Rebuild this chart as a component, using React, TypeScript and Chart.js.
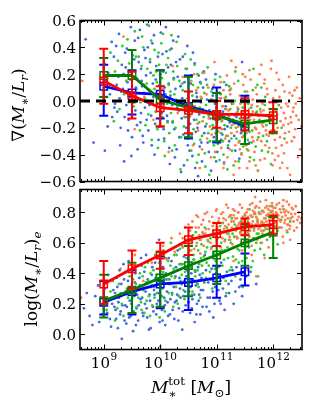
import React, { useEffect, useRef } from "react";
import { Chart, registerables } from "chart.js";
Chart.register(...registerables);

const FONT = '"DejaVu Serif", "Liberation Serif", serif';

// ---------- data ----------
const massBins = [9, 9.5, 10, 10.5, 11, 11.5, 12]; // log10 M*
const massTicks = [9, 10, 11, 12];
const gradTicks = [-0.6, -0.4, -0.2, 0.0, 0.2, 0.4, 0.6];
const mlTicks = [0.0, 0.2, 0.4, 0.6, 0.8];
const zeroLine = [8.58, 12.3];

// top panel: gradient of M/L
const gradBlue = [0.11, 0.06, 0.05, -0.04, -0.1, -0.19];
const gradBlueLo = [-0.11, -0.1, -0.13, -0.28, -0.31, -0.32];
const gradBlueHi = [0.27, 0.23, 0.23, 0.19, 0.1, 0.04];
const gradGreen = [0.19, 0.19, 0.01, -0.05, -0.11, -0.17, -0.14];
const gradGreenLo = [0.03, -0.01, -0.19, -0.27, -0.3, -0.32, -0.24];
const gradGreenHi = [0.32, 0.38, 0.23, 0.18, 0.06, -0.01, -0.06];
const gradRed = [0.15, 0.04, -0.05, -0.07, -0.1, -0.1, -0.11];
const gradRedLo = [-0.02, -0.13, -0.19, -0.24, -0.2, -0.22, -0.23];
const gradRedHi = [0.39, 0.22, 0.11, 0.07, 0.0, 0.02, -0.01];

// bottom panel: log(M/L)_e
const mlBlue = [0.21, 0.28, 0.33, 0.34, 0.37, 0.41];
const mlBlueLo = [0.13, 0.13, 0.17, 0.16, 0.24, 0.32];
const mlBlueHi = [0.35, 0.42, 0.51, 0.52, 0.45, 0.53];
const mlGreen = [0.22, 0.29, 0.37, 0.45, 0.52, 0.6, 0.67];
const mlGreenLo = [0.11, 0.14, 0.18, 0.25, 0.33, 0.45, 0.5];
const mlGreenHi = [0.39, 0.47, 0.54, 0.58, 0.66, 0.72, 0.77];
const mlRed = [0.33, 0.43, 0.52, 0.62, 0.66, 0.705, 0.72];
const mlRedLo = [0.2, 0.3, 0.43, 0.52, 0.58, 0.65, 0.66];
const mlRedHi = [0.48, 0.55, 0.6, 0.7, 0.73, 0.76, 0.78];

// scatter samples [log M*, value]
const gradBluePts = [
  [8.68,0.46],[8.82,-0.31],[8.95,0.12],[9.02,-0.37],[9.08,0.21],[9.11,0.05],[9.15,-0.12],[9.18,0.33],[9.05,0.15],[9.2,-0.02],
  [9.22,0.41],[9.24,-0.08],[9.26,0.18],[9.28,0.02],[9.3,-0.2],[9.32,0.27],[9.34,0.09],[9.36,-0.45],[9.38,0.36],[9.4,-0.03],
  [9.42,0.14],[9.44,-0.14],[9.46,0.22],[9.48,0.55],[9.5,-0.27],[9.52,0.06],[9.54,0.31],[9.56,-0.07],[9.58,0.17],[9.6,-0.36],
  [9.61,0.47],[9.63,0.01],[9.65,-0.16],[9.66,0.24],[9.68,0.11],[9.7,-0.31],[9.72,0.38],[9.73,-0.05],[9.75,0.19],[9.77,0.57],
  [9.79,-0.22],[9.8,0.08],[9.82,0.29],[9.84,-0.11],[9.86,0.43],[9.88,0.03],[9.9,-0.4],[9.92,0.16],[9.94,-0.02],[9.96,0.33],
  [9.98,-0.19],[9.99,0.12],[10.01,0.51],[10.03,-0.09],[10.05,0.22],[10.07,-0.28],[10.09,0.05],[10.11,0.37],[10.13,-0.15],[10.15,0.13],
  [10.17,-0.47],[10.19,0.27],[10.21,-0.03],[10.23,0.45],[10.25,-0.21],[10.27,0.09],[10.29,-0.36],[10.31,0.18],[10.33,-0.07],[10.35,0.31],
  [10.37,-0.53],[10.39,0.02],[10.41,-0.25],[10.43,0.14],[10.45,-0.12],[10.47,0.24],[10.49,-0.33],[10.51,0.07],[10.53,-0.17],[10.55,0.19],
  [10.57,-0.41],[10.59,-0.04],[10.61,0.28],[10.63,-0.23],[10.65,0.03],[10.67,-0.56],[10.69,-0.1],[10.71,0.14],[10.73,-0.31],[10.75,-0.06],
  [10.77,0.22],[10.8,-0.19],[10.83,0.01],[10.86,-0.38],[10.89,-0.13],[10.92,0.09],[10.95,-0.27],[10.97,-0.02],[10.99,-0.45],[11.02,-0.14],
  [11.05,0.06],[11.08,-0.29],[11.11,-0.08],[11.14,-0.21],[11.17,0.12],[11.2,-0.35],[11.23,-0.16],[11.27,-0.02],[11.31,-0.26],[11.35,-0.12],
  [11.4,-0.43],[11.45,0.29],[11.5,-0.2],[11.58,-0.31],[11.7,-0.09],
  [9.01,0.28],[9.07,-0.19],[9.14,0.44],[9.19,-0.05],[9.23,0.12],[9.27,0.5],[9.29,-0.33],[9.31,0.07],[9.35,0.2],[9.37,-0.12],
  [9.39,0.25],[9.41,0.39],[9.43,-0.22],[9.45,0.03],[9.47,0.16],[9.49,-0.41],[9.51,0.34],[9.53,-0.01],[9.55,0.45],[9.57,0.1],
  [9.59,-0.18],[9.62,0.29],[9.64,0.53],[9.66,-0.09],[9.67,0.15],[9.69,-0.26],[9.71,0.06],[9.74,0.32],[9.76,-0.14],[9.78,0.4],
  [9.81,-0.03],[9.83,0.21],[9.85,-0.33],[9.87,0.13],[9.89,0.49],[9.91,-0.17],[9.93,0.26],[9.95,0.04],[9.97,-0.29],[10.0,0.2],
  [10.02,-0.04],[10.04,0.35],[10.06,-0.21],[10.08,0.1],[10.1,0.55],[10.12,-0.11],[10.14,0.25],[10.16,-0.35],[10.18,0.04],[10.2,0.39],
  [10.22,-0.16],[10.24,0.17],[10.26,-0.42],[10.28,0.29],[10.3,-0.05],[10.32,0.48],[10.34,-0.27],[10.36,0.11],[10.38,-0.13],[10.4,0.33],
  [10.42,-0.48],[10.44,0.0],[10.46,-0.2],[10.48,0.41],[10.5,-0.08],[10.52,-0.37],[10.54,0.13],[10.56,-0.25],[10.58,0.36],[10.6,-0.14],
  [10.62,-0.5],[10.64,0.06],[10.66,-0.2],[10.68,0.19],[10.7,-0.34],[10.72,-0.01],[10.74,-0.45],[10.76,0.1],[10.78,-0.24],[10.81,0.16],
  [10.84,-0.31],[10.87,-0.07],[10.9,-0.52],[10.93,0.04],[10.96,-0.2],[10.98,0.2],[11.01,-0.38],[11.04,-0.11],[11.07,0.02],[11.1,-0.25],
  [11.13,-0.46],[11.16,-0.04],[11.19,-0.19],[11.22,-0.3],[11.25,0.09],[11.29,-0.14],[11.33,-0.37],[11.38,-0.06],[11.43,-0.24],[11.55,-0.15],
];
const gradGreenPts = [
  [9.05,0.03],[9.12,0.36],[9.2,0.22],[9.28,-0.06],[9.33,0.41],[9.4,0.15],[9.45,0.28],[9.5,-0.12],[9.55,0.52],[9.58,0.09],
  [9.62,0.33],[9.65,-0.01],[9.68,0.48],[9.71,0.12],[9.74,-0.18],[9.77,0.24],[9.8,0.56],[9.83,0.06],[9.85,-0.29],[9.88,0.19],
  [9.9,0.38],[9.92,-0.08],[9.94,0.14],[9.96,-0.35],[9.98,0.27],[9.99,0.02],[10.02,0.43],[10.04,-0.12],[10.06,0.11],[10.08,-0.41],
  [10.1,0.21],[10.12,-0.02],[10.14,0.32],[10.16,-0.24],[10.18,0.07],[10.2,0.49],[10.22,-0.15],[10.24,0.16],[10.26,-0.33],[10.28,0.01],
  [10.3,0.26],[10.33,-0.07],[10.36,-0.51],[10.39,0.13],[10.42,-0.19],[10.44,0.35],[10.47,-0.04],[10.49,-0.28],[10.51,0.18],[10.53,-0.11],
  [10.55,-0.37],[10.57,0.04],[10.59,-0.21],[10.61,0.27],[10.63,-0.06],[10.65,-0.46],[10.67,0.1],[10.69,-0.16],[10.71,-0.29],[10.73,0.02],
  [10.75,0.21],[10.77,-0.12],[10.79,-0.39],[10.81,-0.03],[10.83,0.12],[10.85,-0.24],[10.87,-0.55],[10.89,-0.08],[10.91,0.07],[10.93,-0.18],
  [10.95,-0.33],[10.97,0.16],[10.99,-0.01],[11.01,-0.22],[11.03,-0.09],[11.05,-0.44],[11.07,0.05],[11.09,-0.15],[11.11,-0.3],[11.13,0.14],
  [11.15,-0.06],[11.17,-0.26],[11.19,-0.51],[11.21,-0.11],[11.23,0.08],[11.25,-0.2],[11.27,-0.37],[11.29,-0.02],[11.31,-0.17],[11.33,0.22],
  [11.35,-0.28],[11.37,-0.08],[11.39,-0.45],[11.41,-0.13],[11.43,0.01],[11.45,-0.23],[11.47,-0.34],[11.49,-0.1],[11.51,-0.19],[11.53,0.04],
  [11.55,-0.29],[11.57,-0.12],[11.59,-0.42],[11.61,-0.05],[11.63,-0.22],[11.65,0.24],[11.67,-0.16],[11.69,-0.34],[11.71,-0.08],[11.73,-0.52],
  [11.76,-0.14],[11.79,0.1],[11.82,-0.26],[11.85,-0.03],[11.88,-0.18],[11.91,-0.38],[11.95,-0.11],[11.99,-0.24],[12.05,-0.07],[12.15,-0.2],
  [9.1,0.12],[9.18,-0.15],[9.25,0.3],[9.36,0.05],[9.42,0.46],[9.48,0.2],[9.53,-0.04],[9.57,0.33],[9.6,0.16],[9.64,-0.22],
  [9.67,0.26],[9.7,0.4],[9.73,0.02],[9.76,0.13],[9.79,-0.1],[9.82,0.31],[9.84,0.45],[9.87,-0.02],[9.9,0.09],[9.93,0.22],
  [9.95,-0.21],[9.97,0.36],[10.0,-0.06],[10.03,0.17],[10.05,0.5],[10.07,-0.3],[10.09,0.04],[10.11,0.27],[10.13,-0.16],[10.15,0.12],
  [10.17,0.38],[10.19,-0.09],[10.21,-0.37],[10.23,0.22],[10.25,0.05],[10.27,-0.2],[10.29,0.44],[10.31,-0.03],[10.34,0.15],[10.37,-0.27],
  [10.4,0.08],[10.43,-0.12],[10.45,0.24],[10.48,-0.44],[10.5,0.06],[10.52,-0.25],[10.54,0.31],[10.56,-0.07],[10.58,0.12],[10.6,-0.32],
  [10.62,0.0],[10.64,-0.14],[10.66,0.2],[10.68,-0.4],[10.7,-0.05],[10.72,0.13],[10.74,-0.26],[10.76,-0.09],[10.78,0.06],[10.8,-0.49],
  [10.82,-0.17],[10.84,0.25],[10.86,-0.11],[10.88,-0.3],[10.9,0.01],[10.92,-0.21],[10.94,0.1],[10.96,-0.42],[10.98,-0.14],[11.0,0.04],
  [11.02,-0.32],[11.04,-0.12],[11.06,0.18],[11.08,-0.24],[11.1,-0.04],[11.12,-0.4],[11.14,-0.18],[11.16,0.03],[11.18,-0.13],[11.2,-0.33],
  [11.22,0.11],[11.24,-0.06],[11.26,-0.28],[11.28,-0.14],[11.3,-0.48],[11.32,0.0],[11.34,-0.2],[11.36,-0.1],[11.38,0.15],[11.4,-0.3],
  [11.42,-0.18],[11.44,-0.39],[11.46,-0.05],[11.48,-0.26],[11.5,0.07],[11.52,-0.15],[11.54,-0.36],[11.56,-0.02],[11.58,-0.23],[11.6,-0.11],
  [11.62,-0.31],[11.64,0.08],[11.66,-0.44],[11.68,-0.2],[11.7,-0.1],[11.72,0.12],[11.74,-0.27],[11.77,-0.06],[11.8,-0.37],[11.83,-0.16],
  [11.86,0.03],[11.89,-0.3],[11.92,-0.12],[11.96,-0.47],[12.0,-0.17],[12.1,-0.03],[12.2,-0.28],
];
const gradOrangePts = [
  [8.62,0.15],[9.35,0.48],[9.55,-0.21],[9.72,0.03],[9.88,-0.14],[10.05,0.09],[10.15,-0.38],[10.22,0.26],[10.31,-0.09],[10.4,0.18],
  [10.45,-0.27],[10.48,0.02],[10.52,-0.12],[10.55,0.15],[10.58,-0.33],[10.61,-0.04],[10.64,0.08],[10.67,-0.22],[10.7,-0.5],[10.72,0.03],
  [10.75,-0.15],[10.78,0.21],[10.8,-0.08],[10.83,-0.28],[10.85,0.1],[10.88,-0.19],[10.9,-0.42],[10.92,0.01],[10.94,-0.11],[10.96,0.29],
  [10.98,-0.24],[10.99,-0.05],[11.01,-0.16],[11.02,0.06],[11.04,-0.3],[11.06,-0.09],[11.07,0.14],[11.09,-0.21],[11.11,-0.04],[11.13,-0.47],
  [11.14,0.02],[11.16,-0.13],[11.18,0.19],[11.2,-0.26],[11.21,-0.07],[11.23,-0.36],[11.25,0.09],[11.27,-0.18],[11.28,-0.01],[11.3,-0.55],
  [11.32,-0.11],[11.34,0.25],[11.36,-0.23],[11.37,-0.05],[11.39,-0.31],[11.41,0.04],[11.43,-0.15],[11.44,-0.4],[11.46,-0.08],[11.47,0.12],
  [11.48,-0.2],[11.5,-0.03],[11.51,-0.12],[11.52,-0.33],[11.54,0.07],[11.55,-0.18],[11.57,-0.06],[11.58,-0.45],[11.6,0.16],[11.61,-0.1],
  [11.63,-0.27],[11.64,0.01],[11.66,-0.14],[11.67,-0.38],[11.69,0.1],[11.7,-0.21],[11.72,-0.04],[11.73,-0.52],[11.75,-0.16],[11.76,0.2],
  [11.78,-0.08],[11.79,-0.3],[11.81,-0.02],[11.82,-0.19],[11.84,0.13],[11.85,-0.43],[11.87,-0.11],[11.88,-0.25],[11.9,0.05],[11.91,-0.15],
  [11.93,-0.35],[11.94,-0.06],[11.96,0.24],[11.97,-0.22],[11.98,-0.1],[11.99,-0.48],[11.995,0.0],[12.01,-0.13],[12.03,-0.29],[12.04,0.08],
  [12.06,-0.07],[12.08,-0.2],[12.09,-0.41],[12.11,0.03],[12.13,-0.15],[12.15,-0.33],[12.17,0.12],[12.19,-0.09],[12.21,-0.24],[12.23,-0.02],
  [12.25,-0.5],[12.27,-0.17],[12.29,0.06],[12.31,-0.12],[12.33,-0.3],[12.36,-0.05],[12.39,-0.21],[12.42,0.1],[12.45,-0.14],[12.48,-0.36],
  [12.4,-0.02],[12.35,-0.08],
  [10.6,0.2],[10.66,-0.17],[10.74,-0.36],[10.82,0.05],[10.86,-0.13],[10.91,-0.25],[10.95,0.12],[10.97,-0.38],[11.0,-0.1],[11.03,-0.23],
  [11.05,0.02],[11.08,-0.35],[11.1,-0.14],[11.12,0.08],[11.15,-0.28],[11.17,-0.06],[11.19,-0.42],[11.22,-0.12],[11.24,0.05],[11.26,-0.24],
  [11.29,-0.16],[11.31,0.13],[11.33,-0.33],[11.35,-0.09],[11.38,-0.19],[11.4,-0.5],[11.42,-0.02],[11.45,-0.27],[11.49,-0.12],[11.505,0.18],
  [11.53,-0.24],[11.56,-0.37],[11.59,-0.14],[11.62,-0.03],[11.65,-0.3],[11.68,-0.2],[11.71,0.05],[11.74,-0.11],[11.77,-0.44],[11.8,-0.17],
  [11.83,-0.07],[11.86,-0.33],[11.89,0.09],[11.92,-0.26],[11.95,-0.13],[11.985,-0.39],[12.0,0.02],[12.02,-0.22],[12.05,-0.35],[12.07,-0.1],
  [12.1,0.16],[12.12,-0.27],[12.14,-0.05],[12.16,-0.46],[12.18,-0.18],[12.2,0.07],[12.22,-0.13],[12.24,-0.31],[12.26,-0.04],[12.28,-0.23],
  [12.3,-0.55],[12.32,-0.16],[12.34,0.04],[12.37,-0.27],[12.41,-0.11],[12.44,-0.42],[12.47,0.02],[12.5,-0.19],[11.64,-0.08],[11.87,-0.22],
  [11.58,0.23],[11.72,-0.29],[11.93,-0.01],[12.06,0.21],[12.19,-0.39],[11.33,-0.45],[11.46,0.2],[11.79,0.27],[12.12,-0.5],[11.26,0.3],
  [11.12,-0.5],[11.97,0.3],[11.54,-0.5],[12.28,0.18],[11.69,-0.48],[11.41,-0.36],[11.75,-0.24],[11.85,0.16],[12.03,-0.44],[12.38,0.08],
];
const mlBluePts = [
  [8.65,0.17],[8.75,0.12],[8.85,0.25],[8.92,0.08],[8.98,0.19],[9.02,0.3],[9.06,0.14],[9.1,0.23],[9.13,0.05],[9.16,0.35],
  [9.19,0.18],[9.2,0.27],[9.22,0.1],[9.24,0.31],[9.26,0.21],[9.28,0.42],[9.3,0.15],[9.32,-0.03],[9.34,0.26],[9.36,0.36],
  [9.38,0.19],[9.4,0.07],[9.42,0.29],[9.44,0.48],[9.46,0.22],[9.48,0.12],[9.5,0.33],[9.52,0.02],[9.54,0.25],[9.56,0.4],
  [9.58,0.17],[9.6,0.3],[9.61,0.09],[9.63,0.37],[9.65,0.23],[9.67,0.45],[9.69,0.14],[9.71,0.3],[9.73,0.2],[9.75,0.52],
  [9.77,0.11],[9.79,0.34],[9.81,0.26],[9.83,0.04],[9.85,0.39],[9.87,0.18],[9.89,0.29],[9.91,0.47],[9.93,0.13],[9.95,0.35],
  [9.97,0.22],[9.98,0.62],[9.99,0.08],[9.96,0.27],[10.01,0.31],[10.03,0.16],[10.05,0.44],[10.07,0.24],[10.09,0.06],[10.11,0.36],
  [10.13,0.21],[10.15,0.5],[10.17,0.13],[10.19,0.33],[10.21,0.27],[10.23,0.41],[10.25,0.1],[10.27,0.38],[10.29,0.22],[10.31,0.55],
  [10.33,0.17],[10.35,0.3],[10.37,0.46],[10.39,0.03],[10.41,0.25],[10.43,0.35],[10.45,0.19],[10.48,0.42],[10.51,0.28],[10.53,0.14],
  [10.55,0.4],[10.57,0.23],[10.59,0.49],[10.61,0.08],[10.63,0.32],[10.65,0.2],[10.67,0.44],[10.69,0.26],[10.71,0.13],[10.73,0.37],
  [10.76,0.29],[10.79,0.52],[10.82,0.18],[10.85,0.34],[10.88,0.24],[10.91,0.43],[10.94,0.11],[10.97,0.31],[11.02,0.38],[11.05,0.22],
  [11.08,0.47],[11.11,0.3],[11.14,0.16],[11.18,0.41],[11.22,0.27],[11.26,0.35],[11.3,0.2],[11.35,0.44],[11.4,0.31],[11.45,0.25],
  [11.52,0.38],[11.7,0.33],
  [8.7,0.27],[8.8,0.06],[8.9,0.32],[8.97,0.13],[9.03,0.22],[9.08,0.39],[9.11,0.1],[9.15,0.2],[9.17,0.29],[9.21,0.16],
  [9.23,0.37],[9.25,0.04],[9.27,0.24],[9.29,0.13],[9.31,0.33],[9.33,0.19],[9.35,0.46],[9.37,0.09],[9.39,0.28],[9.41,0.18],
  [9.43,0.35],[9.45,0.11],[9.47,0.3],[9.49,0.2],[9.51,0.42],[9.53,0.15],[9.55,0.34],[9.57,0.06],[9.59,0.26],[9.62,0.19],
  [9.64,0.32],[9.66,0.5],[9.68,0.24],[9.7,0.12],[9.72,0.41],[9.74,0.28],[9.76,0.17],[9.78,0.36],[9.8,0.03],[9.82,0.22],
  [9.84,0.31],[9.86,0.44],[9.88,0.15],[9.9,0.26],[9.92,0.37],[9.94,0.2],[10.0,0.47],[10.02,0.25],[10.04,0.09],[10.06,0.34],
  [10.08,0.19],[10.1,0.4],[10.12,0.28],[10.14,0.12],[10.16,0.36],[10.18,0.23],[10.2,0.48],[10.22,0.16],[10.24,0.31],[10.26,0.21],
  [10.28,0.44],[10.3,0.26],[10.32,0.09],[10.34,0.37],[10.36,0.24],[10.38,0.33],[10.4,0.15],[10.42,0.51],[10.44,0.28],[10.46,0.38],
  [10.5,0.21],[10.52,0.45],[10.54,0.31],[10.56,0.17],[10.58,0.36],[10.6,0.26],[10.62,0.41],[10.64,0.13],[10.66,0.33],[10.68,0.22],
  [10.7,0.39],[10.72,0.29],[10.75,0.18],[10.78,0.34],[10.81,0.42],[10.84,0.24],[10.87,0.15],[10.9,0.36],[10.93,0.28],[10.96,0.2],
  [10.99,0.4],[11.03,0.29],[11.07,0.2],[11.12,0.37],[11.16,0.25],[11.21,0.33],[11.28,0.42],[11.33,0.28],[11.42,0.36],[11.6,0.41],
];
const mlGreenPts = [
  [9.05,0.16],[9.12,0.28],[9.2,0.09],[9.27,0.33],[9.32,0.2],[9.38,0.41],[9.43,0.24],[9.48,0.13],[9.52,0.36],[9.55,0.27],
  [9.58,0.18],[9.6,0.45],[9.63,0.3],[9.66,0.21],[9.69,0.38],[9.72,0.14],[9.75,0.34],[9.78,0.47],[9.8,0.25],[9.83,0.4],
  [9.86,0.19],[9.89,0.31],[9.91,0.52],[9.94,0.27],[9.96,0.36],[9.99,0.11],[10.01,0.44],[10.04,0.3],[10.06,0.55],[10.09,0.22],
  [10.11,0.39],[10.14,0.48],[10.16,0.33],[10.19,0.6],[10.21,0.26],[10.24,0.43],[10.26,0.37],[10.29,0.52],[10.31,0.2],[10.34,0.46],
  [10.36,0.35],[10.39,0.58],[10.41,0.29],[10.44,0.41],[10.46,0.5],[10.49,0.32],[10.51,0.47],[10.53,0.36],[10.55,0.61],[10.57,0.28],
  [10.59,0.52],[10.61,0.42],[10.63,0.67],[10.65,0.33],[10.67,0.55],[10.69,0.46],[10.71,0.24],[10.73,0.59],[10.75,0.4],[10.77,0.51],
  [10.79,0.7],[10.81,0.37],[10.83,0.57],[10.86,0.45],[10.89,0.63],[10.92,0.3],[10.95,0.53],[10.98,0.48],[11.01,0.58],[11.03,0.44],
  [11.05,0.68],[11.07,0.35],[11.09,0.55],[11.11,0.73],[11.13,0.49],[11.15,0.62],[11.17,0.27],[11.19,0.57],[11.21,0.66],[11.23,0.42],
  [11.25,0.6],[11.27,0.76],[11.29,0.51],[11.31,0.64],[11.33,0.38],[11.35,0.7],[11.37,0.56],[11.39,0.47],[11.42,0.67],[11.44,0.6],
  [11.46,0.31],[11.49,0.72],[11.51,0.62],[11.53,0.5],[11.55,0.74],[11.57,0.57],[11.59,0.68],[11.61,0.44],[11.63,0.77],[11.65,0.63],
  [11.67,0.55],[11.69,0.71],[11.71,0.66],[11.73,0.38],[11.75,0.8],[11.78,0.6],[11.81,0.73],[11.84,0.52],[11.87,0.69],[11.9,0.78],
  [11.94,0.64],[11.98,0.84],[12.03,0.71],[12.08,0.59],[12.14,0.75],[12.25,0.67],
  [9.08,0.22],[9.16,0.35],[9.24,0.17],[9.3,0.27],[9.35,0.12],[9.41,0.3],[9.46,0.38],[9.5,0.23],[9.54,0.14],[9.57,0.33],
  [9.61,0.24],[9.64,0.4],[9.67,0.16],[9.7,0.29],[9.73,0.44],[9.76,0.22],[9.79,0.35],[9.82,0.12],[9.85,0.32],[9.88,0.42],
  [9.9,0.24],[9.93,0.39],[9.95,0.18],[9.98,0.47],[10.0,0.34],[10.03,0.25],[10.05,0.41],[10.08,0.15],[10.1,0.5],[10.13,0.36],
  [10.15,0.27],[10.18,0.45],[10.2,0.38],[10.23,0.18],[10.25,0.52],[10.28,0.31],[10.3,0.42],[10.33,0.25],[10.35,0.56],[10.38,0.39],
  [10.4,0.46],[10.43,0.23],[10.45,0.62],[10.48,0.43],[10.5,0.35],[10.52,0.55],[10.54,0.44],[10.56,0.26],[10.58,0.65],[10.6,0.49],
  [10.62,0.38],[10.64,0.58],[10.66,0.42],[10.68,0.31],[10.7,0.62],[10.72,0.5],[10.74,0.45],[10.76,0.66],[10.78,0.34],[10.8,0.54],
  [10.82,0.47],[10.85,0.61],[10.88,0.41],[10.91,0.57],[10.94,0.68],[10.97,0.43],[11.0,0.63],[11.02,0.52],[11.04,0.39],[11.06,0.71],
  [11.08,0.6],[11.1,0.45],[11.12,0.67],[11.14,0.55],[11.16,0.35],[11.18,0.7],[11.2,0.5],[11.22,0.62],[11.24,0.78],[11.26,0.44],
  [11.28,0.66],[11.3,0.57],[11.32,0.72],[11.34,0.49],[11.36,0.63],[11.38,0.8],[11.4,0.55],[11.43,0.74],[11.45,0.48],[11.48,0.65],
  [11.5,0.78],[11.52,0.7],[11.54,0.58],[11.56,0.66],[11.58,0.82],[11.6,0.61],[11.62,0.72],[11.64,0.48],[11.66,0.69],[11.68,0.79],
  [11.7,0.6],[11.72,0.74],[11.74,0.66],[11.77,0.56],[11.8,0.81],[11.83,0.68],[11.86,0.76],[11.89,0.62],[11.92,0.71],[11.96,0.8],
  [12.0,0.65],[12.05,0.78],[12.1,0.7],[12.18,0.82],[12.3,0.74],
];
const mlOrangePts = [
  [8.6,0.24],[9.3,0.43],[9.55,0.52],[9.7,0.35],[9.85,0.47],[10.0,-0.08],[10.05,0.58],[10.12,0.49],[10.2,0.63],[10.26,0.54],
  [10.3,0.42],[10.35,0.66],[10.4,0.57],[10.44,0.7],[10.48,0.5],[10.51,0.61],[10.53,0.68],[10.55,0.55],[10.57,0.74],[10.59,0.63],
  [10.61,0.47],[10.63,0.7],[10.65,0.6],[10.67,0.77],[10.69,0.65],[10.71,0.53],[10.73,0.72],[10.75,0.67],[10.77,0.58],[10.79,0.79],
  [10.81,0.69],[10.84,0.62],[10.87,0.74],[10.9,0.56],[10.93,0.71],[10.96,0.66],[10.99,0.81],[11.01,0.7],[11.02,0.63],[11.04,0.76],
  [11.06,0.67],[11.07,0.57],[11.09,0.73],[11.11,0.8],[11.13,0.69],[11.14,0.61],[11.16,0.75],[11.18,0.66],[11.2,0.83],[11.21,0.72],
  [11.23,0.64],[11.25,0.78],[11.27,0.7],[11.28,0.59],[11.3,0.74],[11.32,0.81],[11.34,0.68],[11.36,0.76],[11.37,0.63],[11.39,0.72],
  [11.41,0.85],[11.43,0.7],[11.44,0.66],[11.46,0.77],[11.47,0.73],[11.48,0.61],[11.5,0.79],[11.51,0.71],[11.52,0.76],[11.54,0.67],
  [11.55,0.82],[11.57,0.73],[11.58,0.64],[11.6,0.78],[11.61,0.7],[11.63,0.86],[11.64,0.74],[11.66,0.68],[11.67,0.8],[11.69,0.72],
  [11.7,0.77],[11.72,0.62],[11.73,0.75],[11.75,0.83],[11.76,0.7],[11.78,0.79],[11.79,0.73],[11.81,0.66],[11.82,0.81],[11.84,0.76],
  [11.85,0.71],[11.87,0.88],[11.88,0.74],[11.9,0.69],[11.91,0.79],[11.93,0.75],[11.94,0.84],[11.96,0.72],[11.97,0.65],[11.98,0.78],
  [11.99,0.81],[11.62,0.58],[11.8,0.6],[11.92,0.57],[11.68,0.9],[12.01,0.76],[12.02,0.71],[12.04,0.83],[12.05,0.74],[12.07,0.79],
  [12.08,0.68],[12.1,0.86],[12.11,0.75],[12.13,0.7],[12.14,0.8],[12.16,0.77],[12.17,0.64],[12.19,0.82],[12.2,0.73],[12.22,0.78],
  [12.24,0.87],[12.25,0.72],[12.27,0.8],[12.29,0.69],[12.31,0.76],[12.33,0.83],[12.36,0.74],[12.39,0.79],[12.42,0.7],[12.45,0.77],
  [12.48,0.73],[12.18,0.6],[12.3,0.62],
  [10.4,0.63],[10.5,0.72],[10.56,0.64],[10.6,0.56],[10.64,0.78],[10.68,0.7],[10.72,0.62],[10.76,0.75],[10.8,0.66],[10.83,0.8],
  [10.86,0.69],[10.89,0.6],[10.92,0.77],[10.95,0.73],[10.98,0.64],[11.0,0.82],[11.03,0.74],[11.05,0.68],[11.08,0.79],[11.1,0.63],
  [11.12,0.76],[11.15,0.71],[11.17,0.85],[11.19,0.68],[11.22,0.77],[11.24,0.62],[11.26,0.74],[11.29,0.82],[11.31,0.69],[11.33,0.76],
  [11.35,0.64],[11.38,0.8],[11.4,0.73],[11.42,0.66],[11.45,0.83],[11.47,0.69],[11.49,0.75],[11.505,0.66],[11.53,0.8],[11.56,0.72],
  [11.59,0.85],[11.62,0.77],[11.65,0.71],[11.68,0.83],[11.71,0.76],[11.74,0.69],[11.77,0.87],[11.8,0.74],[11.83,0.8],[11.86,0.7],
  [11.89,0.84],[11.92,0.77],[11.95,0.7],[11.98,0.86],[12.0,0.79],[12.03,0.73],[12.06,0.85],[12.09,0.78],[12.12,0.82],[12.15,0.7],
  [12.18,0.88],[12.21,0.75],[12.23,0.81],[12.26,0.76],[12.28,0.85],[12.3,0.71],[12.32,0.79],[12.35,0.82],[12.37,0.68],[12.4,0.84],
  [12.43,0.75],[12.46,0.8],[12.5,0.76],[11.55,0.77],[11.6,0.72],[11.66,0.79],[11.7,0.84],[11.75,0.79],[11.83,0.73],[11.88,0.78],
  [11.95,0.81],[12.01,0.83],[12.08,0.76],[12.13,0.74],[12.2,0.8],[12.27,0.72],[12.34,0.77],[11.45,0.75],[11.36,0.71],[11.3,0.78],
  [11.58,0.68],[11.79,0.68],[11.97,0.76],[12.17,0.84],[12.24,0.68],[11.64,0.81],[11.86,0.83],[12.05,0.8],[11.73,0.73],[11.91,0.82],
  [11.3,0.48],[11.55,0.42],[11.7,0.38],[11.85,0.5],[11.45,0.55],[11.62,0.52],
];

// ---------- styling ----------
const C_BLUE = "#0000ff";
const C_GREEN = "#007f00";
const C_RED = "#ff0000";
const S_BLUE = "#4169e1";
const S_GREEN = "#32cd32";
const S_ORANGE = "#ff7f50";

type Seg = { t: string; it?: boolean; sc?: number; dy?: number; adv?: boolean };

function segFont(s: Seg, size: number) {
  return `${s.it ? "italic " : ""}${(size * (s.sc ?? 1)).toFixed(1)}px ${FONT}`;
}
function richWidth(ctx: CanvasRenderingContext2D, segs: Seg[], size: number) {
  let w = 0;
  for (const s of segs) {
    ctx.font = segFont(s, size);
    if (s.adv !== false) w += ctx.measureText(s.t).width;
  }
  return w;
}
function drawRich(ctx: CanvasRenderingContext2D, segs: Seg[], size: number, x: number, y: number) {
  let cx = x;
  for (const s of segs) {
    ctx.font = segFont(s, size);
    ctx.fillText(s.t, cx, y + (s.dy ?? 0) * size);
    if (s.adv !== false) cx += ctx.measureText(s.t).width;
  }
}

const SUB = 0.7;
const gradLabel: Seg[] = [
  { t: "\u2207(" }, { t: "M", it: true }, { t: "\u2217", sc: SUB, dy: 0.3 }, { t: "/" },
  { t: "L", it: true }, { t: "r", it: true, sc: SUB, dy: 0.25 }, { t: ")" },
];
const mlLabel: Seg[] = [
  { t: "log(" }, { t: "M", it: true }, { t: "\u2217", sc: SUB, dy: 0.3 }, { t: "/" },
  { t: "L", it: true }, { t: "r", it: true, sc: SUB, dy: 0.25 }, { t: ")" }, { t: "e", it: true, sc: SUB, dy: 0.25 },
];
const massLabel: Seg[] = [
  { t: "M", it: true }, { t: "\u2217", sc: SUB, dy: 0.3, adv: false }, { t: "tot", sc: SUB, dy: -0.42 },
  { t: " [" }, { t: "M", it: true }, { t: "\u2299", sc: SUB, dy: 0.25 }, { t: "]" },
];

type PanelCfg = {
  yTicks: number[];
  showX: boolean;
  yLabel: Seg[];
  yLabelX: number;
  yLabelY: number;
};

function framePlugin(cfg: PanelCfg) {
  return {
    id: "frameTicks",
    afterDraw(chart: any) {
      const ctx: CanvasRenderingContext2D = chart.ctx;
      const a = chart.chartArea;
      const xs = chart.scales.x;
      const ys = chart.scales.y;
      ctx.save();
      ctx.strokeStyle = "#000";
      ctx.fillStyle = "#000";
      ctx.lineWidth = 1;
      const seg = (x1: number, y1: number, x2: number, y2: number) => {
        ctx.beginPath();
        ctx.moveTo(x1, y1);
        ctx.lineTo(x2, y2);
        ctx.stroke();
      };
      for (const v of cfg.yTicks) {
        const py = Math.round(ys.getPixelForValue(v)) + 0.5;
        seg(a.left, py, a.left + 5, py);
        seg(a.right - 5, py, a.right, py);
      }
      for (let d = 8; d <= 12; d++) {
        for (let m = 1; m <= 9; m++) {
          const v = m * Math.pow(10, d);
          if (v <= xs.min || v >= xs.max) continue;
          const px = Math.round(xs.getPixelForValue(v)) + 0.5;
          const len = m === 1 ? 5 : 2.5;
          seg(px, a.bottom, px, a.bottom - len);
          seg(px, a.top, px, a.top + len);
        }
      }
      ctx.lineWidth = 1.6;
      ctx.strokeRect(a.left, a.top, a.right - a.left, a.bottom - a.top);

      ctx.font = `15px ${FONT}`;
      ctx.textAlign = "right";
      ctx.textBaseline = "alphabetic";
      for (const v of cfg.yTicks) {
        const py = ys.getPixelForValue(v);
        const txt = v.toFixed(1).replace("-", "\u2212");
        ctx.fillText(txt === "\u22120.0" ? "0.0" : txt, a.left - 4, py + 5.5);
      }
      ctx.textAlign = "left";
      if (cfg.showX) {
        for (const e of massTicks) {
          const px = xs.getPixelForValue(Math.pow(10, e));
          ctx.font = `15px ${FONT}`;
          const w1 = ctx.measureText("10").width;
          ctx.font = `10.5px ${FONT}`;
          const w2 = ctx.measureText(String(e)).width;
          const x0 = px - (w1 + w2) / 2;
          ctx.font = `15px ${FONT}`;
          ctx.fillText("10", x0, a.bottom + 18.5);
          ctx.font = `10.5px ${FONT}`;
          ctx.fillText(String(e), x0 + w1 + 0.5, a.bottom + 10.5);
        }
        const w = richWidth(ctx, massLabel, 17);
        drawRich(ctx, massLabel, 17, (a.left + a.right) / 2 - w / 2, a.bottom + 43);
      }
      ctx.save();
      ctx.translate(cfg.yLabelX, cfg.yLabelY);
      ctx.rotate(-Math.PI / 2);
      const wl = richWidth(ctx, cfg.yLabel, 17);
      drawRich(ctx, cfg.yLabel, 17, -wl / 2, 0);
      ctx.restore();
      ctx.restore();
    },
  };
}

const errorBarPlugin = {
  id: "errorBars",
  beforeDatasetDraw(chart: any, args: any) {
    const ds = chart.data.datasets[args.index];
    if (!ds.errLo) return;
    const ctx: CanvasRenderingContext2D = chart.ctx;
    const xs = chart.scales.x;
    const ys = chart.scales.y;
    const a = chart.chartArea;
    ctx.save();
    ctx.beginPath();
    ctx.rect(a.left, a.top, a.right - a.left, a.bottom - a.top);
    ctx.clip();
    ctx.strokeStyle = ds.borderColor;
    ctx.lineWidth = 2;
    ds.data.forEach((p: any, i: number) => {
      const px = xs.getPixelForValue(p.x);
      const y1 = ys.getPixelForValue(ds.errLo[i]);
      const y2 = ys.getPixelForValue(ds.errHi[i]);
      ctx.beginPath();
      ctx.moveTo(px, y1);
      ctx.lineTo(px, y2);
      ctx.moveTo(px - 4.5, y1);
      ctx.lineTo(px + 4.5, y1);
      ctx.moveTo(px - 4.5, y2);
      ctx.lineTo(px + 4.5, y2);
      ctx.stroke();
    });
    ctx.restore();
  },
};

const toXY = (pts: number[][]) => pts.map(([lx, y]) => ({ x: Math.pow(10, lx), y }));
const series = (vals: number[]) => vals.map((y, i) => ({ x: Math.pow(10, massBins[i]), y }));

function scatterDs(pts: number[][], color: string, order: number) {
  return {
    data: toXY(pts),
    showLine: false,
    pointRadius: 1.4,
    pointBorderWidth: 0,
    backgroundColor: color,
    pointBackgroundColor: color,
    borderColor: color,
    order,
  };
}
function lineDs(vals: number[], lo: number[], hi: number[], color: string, order: number) {
  return {
    data: series(vals),
    errLo: lo,
    errHi: hi,
    showLine: true,
    borderColor: color,
    borderWidth: 2.8,
    pointStyle: "rect",
    pointRadius: 5.2,
    pointBorderWidth: 1.5,
    pointBorderColor: color,
    pointBackgroundColor: "rgba(0,0,0,0)",
    backgroundColor: "rgba(0,0,0,0)",
    order,
  };
}

const X_MIN = Math.pow(10, 8.58);
const X_MAX = Math.pow(10, 12.51);

function makeChart(canvas: HTMLCanvasElement, datasets: any[], yMin: number, yMax: number, padding: any, cfg: PanelCfg) {
  return new Chart(canvas, {
    type: "scatter",
    data: { datasets },
    options: {
      responsive: false,
      animation: false,
      devicePixelRatio: 1,
      events: [],
      layout: { padding },
      plugins: { legend: { display: false }, tooltip: { enabled: false } },
      scales: {
        x: { type: "logarithmic", min: X_MIN, max: X_MAX, display: false },
        y: { type: "linear", min: yMin, max: yMax, display: false },
      },
    } as any,
    plugins: [errorBarPlugin, framePlugin(cfg)] as any,
  });
}

export default function App() {
  const topRef = useRef<HTMLCanvasElement>(null);
  const botRef = useRef<HTMLCanvasElement>(null);

  useEffect(() => {
    const top = makeChart(
      topRef.current!,
      [
        {
          data: zeroLine.map((lx) => ({ x: Math.pow(10, lx), y: 0 })),
          showLine: true,
          borderColor: "#000",
          borderWidth: 3.2,
          borderDash: [10, 6],
          pointRadius: 0,
          order: 0,
        },
        lineDs(gradRed, gradRedLo, gradRedHi, C_RED, 1),
        lineDs(gradGreen, gradGreenLo, gradGreenHi, C_GREEN, 2),
        lineDs(gradBlue, gradBlueLo, gradBlueHi, C_BLUE, 3),
        scatterDs(gradOrangePts, S_ORANGE, 4),
        scatterDs(gradGreenPts, S_GREEN, 5),
        scatterDs(gradBluePts, S_BLUE, 6),
      ],
      -0.6,
      0.6,
      { left: 80, right: 10, top: 20.5, bottom: 229.5 },
      { yTicks: gradTicks, showX: false, yLabel: gradLabel, yLabelX: 24, yLabelY: 105 }
    );
    const bot = makeChart(
      botRef.current!,
      [
        lineDs(mlRed, mlRedLo, mlRedHi, C_RED, 1),
        lineDs(mlGreen, mlGreenLo, mlGreenHi, C_GREEN, 2),
        lineDs(mlBlue, mlBlueLo, mlBlueHi, C_BLUE, 3),
        scatterDs(mlOrangePts, S_ORANGE, 4),
        scatterDs(mlGreenPts, S_GREEN, 5),
        scatterDs(mlBluePts, S_BLUE, 6),
      ],
      -0.1,
      0.95,
      { left: 80, right: 10, top: 189.5, bottom: 61.5 },
      { yTicks: mlTicks, showX: true, yLabel: mlLabel, yLabelX: 37, yLabelY: 279 }
    );
    return () => {
      top.destroy();
      bot.destroy();
    };
  }, []);

  const cs: React.CSSProperties = { position: "absolute", left: 0, top: 0, width: 312, height: 411 };
  return (
    <div style={{ position: "absolute", left: 0, top: 0, width: 312, height: 411, background: "#fff" }}>
      <canvas ref={topRef} width={312} height={411} style={cs} />
      <canvas ref={botRef} width={312} height={411} style={cs} />
    </div>
  );
}
